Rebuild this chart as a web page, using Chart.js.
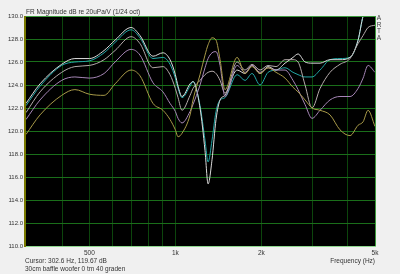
<!DOCTYPE html>
<html>
<head>
<meta charset="utf-8">
<script src="https://cdn.jsdelivr.net/npm/chart.js@4.4.1/dist/chart.umd.min.js"></script>
<style>
body{margin:0;background:#f0f0f0;font-family:"Liberation Sans",Arial,sans-serif;color:#333;}
#wrap{position:relative;width:400px;height:274px;overflow:hidden;}
.lbl{position:absolute;font-size:6.5px;line-height:7px;white-space:nowrap;}
#arta{position:absolute;left:376px;top:15px;font-size:6.5px;line-height:6.5px;width:6px;text-align:center;color:#444;}
</style>
</head>
<body>
<div id="wrap">
  <canvas id="myChart" width="400" height="274"></canvas>
  <div class="lbl" style="left:26px;top:8px;">FR Magnitude dB re 20uPa/V (1/24 oct)</div>
  <div class="lbl" style="left:25px;top:257px;">Cursor: 302.6 Hz, 119.67 dB</div>
  <div class="lbl" style="left:25px;top:265px;">30cm baffle woofer 0 tm 40 graden</div>
  <div class="lbl" style="right:25px;top:257px;">Frequency (Hz)</div>
  <div id="arta">A<br>R<br>T<br>A</div>
</div>
<script>
// frequencies (Hz) where the curves were read
var freqs = [300,336,400,445,500,563,615,700,752,835,905,958,1000,1022,1055,1126,1153,1220,1270,1302,1344,1388,1434,1492,1645,1754,1856,1979,2111,2252,2421,2582,2689,2845,3010,3210,3479,3771,4089,4362,4542,4728,5000];

var white = [122.4,124.1,125.8,126.3,126.3,127.0,127.9,129.0,128.3,126.5,126.8,126.2,124.9,123.9,123.0,124.1,124.3,122.0,118.3,115.4,117.5,121.0,122.7,123.1,125.3,125.0,125.7,125.0,125.6,125.3,125.9,126.4,126.7,126.0,125.9,125.9,126.2,126.2,126.4,127.9,130.0,131.0,132.3];
var teal = [122.2,123.9,125.7,126.0,126.1,126.8,127.7,128.8,128.1,126.3,126.4,125.8,124.6,123.7,122.9,123.9,124.3,122.2,119.2,117.3,119.2,121.7,122.7,122.9,124.9,124.4,125.0,124.0,125.1,125.3,125.5,125.1,124.9,124.7,124.7,125.3,126.2,126.3,126.4,127.9,130.0,131.0,132.3];
var gray = [121.6,123.4,125.1,125.6,125.7,126.2,127.0,128.2,127.6,125.5,125.6,124.9,123.7,122.9,121.8,123.1,123.7,124.4,124.9,125.1,125.2,125.0,124.4,123.3,126.0,125.3,125.8,125.3,125.7,125.6,126.2,126.2,126.0,124.0,122.0,123.7,125.1,125.8,126.3,127.6,128.3,129.0,129.2];
var purple = [121.0,122.7,124.4,124.7,124.6,125.0,126.0,127.1,126.6,124.2,123.4,122.4,121.7,121.1,120.7,121.7,122.3,124.0,125.5,126.3,126.8,126.9,125.7,123.0,125.7,125.1,125.7,125.1,125.5,125.3,125.3,124.4,123.6,122.3,121.1,121.8,122.7,123.0,123.0,123.7,124.6,125.7,125.1];
var olive = [119.7,121.4,123.1,123.6,123.2,123.1,124.1,125.3,124.8,122.4,121.8,121.0,120.1,119.5,119.8,121.4,122.7,124.9,126.6,127.5,128.1,127.9,126.2,123.6,126.4,125.0,125.6,125.0,125.5,125.1,124.6,123.8,123.4,122.7,122.0,121.8,121.4,120.1,119.6,120.5,120.8,121.8,120.4];

var xGrid = [400,500,600,700,800,900,1000,2000,3000,4000];
var xLabels = {500:'500',1000:'1k',2000:'2k',5000:'5k'};

function pts(vals){
    return freqs.map(function(f,i){ return {x:f, y:vals[i]}; });
}

function line(vals, color){
    return {
        data: pts(vals),
        borderColor: color,
        borderWidth: 1,
        pointRadius: 0,
        cubicInterpolationMode: 'monotone',
        fill: false
    };
}

var frame = {
    id: 'frame',
    beforeDraw: function(chart){
        var c = chart.ctx, a = chart.chartArea;
        c.save();
        c.fillStyle = '#000';
        c.fillRect(a.left, a.top, a.right-a.left, a.bottom-a.top);
        // vertical grid from the x scale
        c.strokeStyle = '#0c450c';
        c.lineWidth = 1;
        c.beginPath();
        xGrid.forEach(function(v){
            var px = Math.round(chart.scales.x.getPixelForValue(v)) + 0.5;
            c.moveTo(px, a.top); c.lineTo(px, a.bottom);
        });
        c.stroke();
        c.restore();
    },
    afterDraw: function(chart){
        var c = chart.ctx, a = chart.chartArea;
        c.save();
        c.lineWidth = 1;
        c.strokeStyle = '#3c9a3c';
        c.beginPath();
        c.moveTo(a.left, a.top+0.5); c.lineTo(a.right+0.5, a.top+0.5);
        c.moveTo(a.right+0.5, a.top); c.lineTo(a.right+0.5, a.bottom);
        c.stroke();
        c.strokeStyle = '#8fd88f';
        c.beginPath();
        c.moveTo(a.left, a.bottom+0.5); c.lineTo(a.right+1, a.bottom+0.5);
        c.stroke();
        c.strokeStyle = '#7a7a00';
        c.lineWidth = 2;
        c.beginPath();
        c.moveTo(a.left-1, a.top); c.lineTo(a.left-1, a.bottom+1);
        c.stroke();
        c.restore();
    }
};

var ctx = document.getElementById("myChart");
var myChart = new Chart(ctx, {
    type: 'line',
    data: {
        datasets: [
            line(olive, '#a89a48'),
            line(purple, '#a686b6'),
            line(gray, '#b4aaaa'),
            line(white, '#dcdcdc'),
            line(teal, '#22a6a6')
        ]
    },
    options: {
        responsive: false,
        animation: false,
        layout: {padding: {top: 16, right: 25, left: 0, bottom: 0}},
        plugins: {legend: {display: false}, tooltip: {enabled: false}},
        scales: {
            x: {
                type: 'logarithmic',
                min: 300,
                max: 5000,
                afterBuildTicks: function(scale){
                    scale.ticks = [500,1000,2000,5000].map(function(v){ return {value: v}; });
                },
                afterFit: function(scale){ scale.height = 28; },
                border: {display: false},
                grid: {display: false, drawTicks: false},
                ticks: {
                    autoSkip: false,
                    maxRotation: 0,
                    padding: 3,
                    color: '#333',
                    font: {family: 'Liberation Sans', size: 6.5},
                    callback: function(v){ return xLabels[v] || ''; }
                }
            },
            y: {
                min: 110,
                max: 130,
                afterFit: function(scale){ scale.width = 26; },
                border: {display: false},
                grid: {
                    color: '#1a6e1a',
                    lineWidth: 1,
                    drawTicks: false
                },
                ticks: {
                    stepSize: 2,
                    padding: 3,
                    color: '#333',
                    font: {family: 'Liberation Sans', size: 6},
                    callback: function(v){ return v.toFixed(1); }
                }
            }
        }
    },
    plugins: [frame]
});
</script>
</body>
</html>
